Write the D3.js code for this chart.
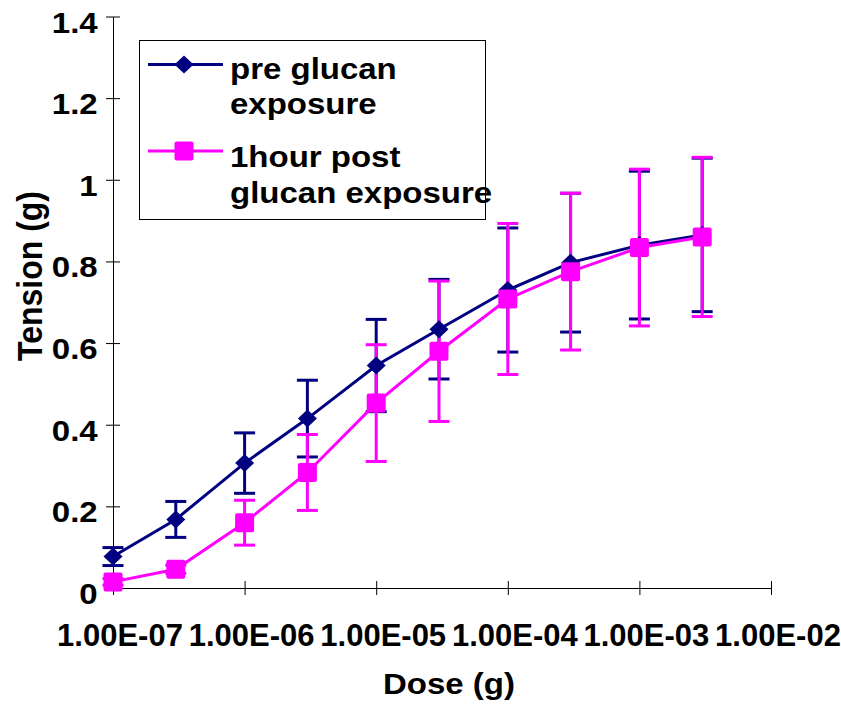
<!DOCTYPE html>
<html>
<head>
<meta charset="utf-8">
<script src="https://cdn.jsdelivr.net/npm/d3@7"></script>
<style>
  body { margin: 0; background: #fff; }
  svg { display: block; }
</style>
</head>
<body>
<svg width="841" height="713"></svg>
<script>
// dose steps (g)
const doses = [1e-7, 3e-7, 1e-6, 3e-6, 1e-5, 3e-5, 1e-4, 3e-4, 1e-3, 3e-3];

// pre glucan exposure
const preMean = [0.077, 0.168, 0.306, 0.415, 0.545, 0.634, 0.730, 0.797, 0.840, 0.865];
const preErr  = [0.022, 0.044, 0.074, 0.094, 0.113, 0.122, 0.152, 0.170, 0.181, 0.188];

// 1 hour post glucan exposure
const postMean = [0.015, 0.046, 0.160, 0.283, 0.453, 0.580, 0.708, 0.775, 0.834, 0.860];
const postErr  = [0.008, 0.010, 0.055, 0.093, 0.143, 0.172, 0.185, 0.192, 0.192, 0.195];

const seriesNames = [["pre glucan", "exposure"], ["1hour post", "glucan exposure"]];

const xTickValues = [1e-7, 1e-6, 1e-5, 1e-4, 1e-3, 1e-2];
const xTickLabels = ["1.00E-07", "1.00E-06", "1.00E-05", "1.00E-04", "1.00E-03", "1.00E-02"];
const yTickValues = [0, 0.2, 0.4, 0.6, 0.8, 1, 1.2, 1.4];
const yTickLabels = ["0", "0.2", "0.4", "0.6", "0.8", "1", "1.2", "1.4"];

const FONT = "'Liberation Sans', Arial, sans-serif";
const sx = 1.1; // text in the original is a bit wide

const series = [
  { name: seriesNames[0], mean: preMean, err: preErr, color: "#000080", marker: "diamond" },
  { name: seriesNames[1], mean: postMean, err: postErr, color: "#ff00ff", marker: "square" }
];

const svg = d3.select("svg");

let x = d3.scaleLog()
  .domain([1e-7, 1e-2])
  .range([113, 771]);

let y = d3.scaleLinear()
  .domain([0, 1.4])
  .range([588, 16.5]);

function label(parent, px, py, str, anchor, size) {
  return parent.append("text")
    .attr("transform", "translate(" + px + "," + py + ") scale(" + sx + ",1)")
    .attr("text-anchor", anchor)
    .attr("font-family", FONT)
    .attr("font-weight", "bold")
    .attr("font-size", size)
    .attr("fill", "#000")
    .text(str);
}

// axes
let yAxis = svg.append("g")
  .attr("transform", "translate(" + x.range()[0] + ",0)")
  .attr("font-family", FONT)
  .call(d3.axisLeft(y)
    .tickValues(yTickValues)
    .tickFormat(d => yTickLabels[yTickValues.indexOf(d)])
    .tickSize(7)
    .tickSizeOuter(0));

yAxis.selectAll(".tick line").attr("x1", 7).attr("x2", -7).attr("stroke", "#000");
yAxis.selectAll(".tick text")
  .attr("font-size", 30)
  .attr("font-weight", "bold")
  .attr("fill", "#000")
  .attr("x", -15.3 / sx)
  .attr("dy", 0)
  .attr("y", 15.5)
  .attr("transform", "scale(" + sx + ",1)");

let xAxis = svg.append("g")
  .attr("transform", "translate(0," + y.range()[0] + ")")
  .attr("font-family", FONT)
  .call(d3.axisBottom(x)
    .tickValues(xTickValues)
    .tickFormat(d => xTickLabels[xTickValues.indexOf(d)])
    .tickSize(7)
    .tickSizeOuter(0));

xAxis.selectAll(".tick line").attr("y1", -7).attr("y2", 7).attr("stroke", "#000");
xAxis.selectAll(".tick text")
  .attr("font-size", 31)
  .attr("font-weight", "bold")
  .attr("fill", "#000")
  .attr("x", 6.5)
  .attr("y", 58)
  .attr("dy", 0);

svg.selectAll(".domain").attr("stroke", "#000").attr("stroke-width", 1);

// axis titles
label(svg, 449, 694, "Dose (g)", "middle", 30);

svg.append("text")
  .attr("transform", "translate(42,276) rotate(-90) scale(1," + sx + ")")
  .attr("text-anchor", "middle")
  .attr("font-family", FONT)
  .attr("font-weight", "bold")
  .attr("font-size", 32)
  .attr("fill", "#000")
  .text("Tension (g)");

// marker shapes
function drawMarker(g, kind, color) {
  if (kind == "diamond") {
    g.append("path")
      .attr("d", "M0,-9 L9.5,0 L0,9 L-9.5,0 Z")
      .attr("fill", color);
  } else {
    g.append("rect")
      .attr("x", -9.5).attr("y", -9.5)
      .attr("width", 19).attr("height", 19)
      .attr("rx", 2)
      .attr("fill", color);
  }
}

// error bars first, then lines, then markers
series.forEach(function(s) {
  let eb = svg.append("g").attr("stroke", s.color).attr("stroke-width", 3);
  doses.forEach(function(d, i) {
    let cx = x(d), top = y(s.mean[i] + s.err[i]), bot = y(s.mean[i] - s.err[i]);
    eb.append("line").attr("x1", cx).attr("x2", cx).attr("y1", top).attr("y2", bot);
    eb.append("line").attr("x1", cx - 10.5).attr("x2", cx + 10.5).attr("y1", top).attr("y2", top);
    eb.append("line").attr("x1", cx - 10.5).attr("x2", cx + 10.5).attr("y1", bot).attr("y2", bot);
  });
});

let line = d3.line()
  .x(function(d) { return x(d[0]); })
  .y(function(d) { return y(d[1]); });

series.forEach(function(s) {
  svg.append("path")
    .datum(doses.map((d, i) => [d, s.mean[i]]))
    .attr("d", line)
    .attr("fill", "none")
    .attr("stroke", s.color)
    .attr("stroke-width", 3);
});

series.forEach(function(s) {
  doses.forEach(function(d, i) {
    let g = svg.append("g").attr("transform", "translate(" + x(d) + "," + y(s.mean[i]) + ")");
    drawMarker(g, s.marker, s.color);
  });
});

// legend
let legend = svg.append("g");
legend.append("rect")
  .attr("x", 139.5).attr("y", 40.5)
  .attr("width", 346).attr("height", 179)
  .attr("fill", "#fff")
  .attr("stroke", "#000")
  .attr("stroke-width", 1);

let legendRows = [{ ly: 64.5, t: [78.5, 113.5] }, { ly: 151, t: [166.5, 203] }];
series.forEach(function(s, k) {
  let r = legendRows[k];
  legend.append("line")
    .attr("x1", 148).attr("x2", 223)
    .attr("y1", r.ly).attr("y2", r.ly)
    .attr("stroke", s.color).attr("stroke-width", 3);
  drawMarker(legend.append("g").attr("transform", "translate(184," + r.ly + ")"), s.marker, s.color);
  s.name.forEach(function(t, j) {
    label(legend, 230, r.t[j], t, "start", 30);
  });
});
</script>
</body>
</html>
